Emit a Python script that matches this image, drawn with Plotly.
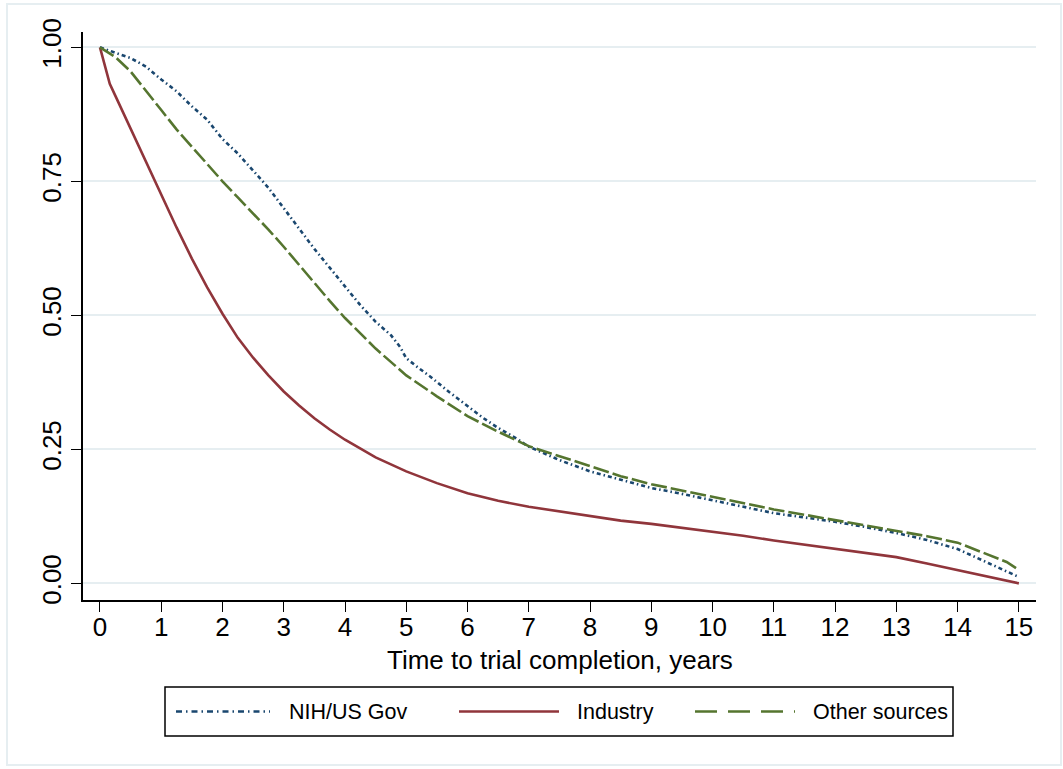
import plotly.graph_objects as go

# ---------------- data ----------------
series_names = ["NIH/US Gov", "Industry", "Other sources"]

nih_t = [0, 0.25, 0.5, 0.75, 1, 1.25, 1.5, 1.75, 2, 2.25, 2.5, 2.75, 3, 3.25, 3.5,
         3.75, 4, 4.25, 4.5, 4.75, 4.9, 5.0, 5.2, 5.4, 5.7, 6.0, 6.25, 6.5, 6.8, 7,
         7.5, 8, 8.5, 9, 9.5, 10, 10.5, 11, 11.5, 12, 12.5, 13, 13.5, 14, 14.5, 14.8, 15]
nih_s = [1.0, 0.99, 0.98, 0.964, 0.94, 0.918, 0.89, 0.865, 0.829, 0.802, 0.771, 0.738,
         0.70, 0.662, 0.624, 0.589, 0.554, 0.519, 0.488, 0.463, 0.441, 0.42, 0.402,
         0.385, 0.357, 0.33, 0.309, 0.29, 0.27, 0.255, 0.23, 0.209, 0.193, 0.178,
         0.167, 0.155, 0.143, 0.131, 0.123, 0.115, 0.105, 0.094, 0.081, 0.064, 0.038,
         0.022, 0.012]

ind_t = [0, 0.08, 0.16, 0.25, 0.5, 0.75, 1, 1.25, 1.5, 1.75, 2, 2.25, 2.5, 2.75, 3,
         3.25, 3.5, 3.75, 4, 4.5, 5, 5.5, 6, 6.5, 7, 7.5, 8, 8.5, 9, 9.5, 10, 10.5,
         11, 11.5, 12, 12.5, 13, 13.5, 14, 14.5, 15]
ind_s = [1.0, 0.965, 0.932, 0.91, 0.848, 0.786, 0.724, 0.664, 0.606, 0.552, 0.503,
         0.458, 0.421, 0.388, 0.358, 0.332, 0.308, 0.287, 0.268, 0.235, 0.209,
         0.187, 0.168, 0.154, 0.143, 0.134, 0.125, 0.117, 0.111, 0.104, 0.097,
         0.089, 0.08, 0.072, 0.064, 0.057, 0.049, 0.037, 0.025, 0.013, 0.0]

oth_t = [0, 0.25, 0.5, 0.75, 1, 1.25, 1.5, 1.75, 2, 2.25, 2.5, 2.75, 3, 3.25, 3.5,
         3.75, 4, 4.25, 4.5, 5, 5.5, 6, 6.5, 7, 7.5, 8, 8.5, 9, 9.5, 10, 10.5, 11, 11.5,
         12, 12.5, 13, 13.5, 14, 14.5, 14.8, 15]
oth_s = [1.0, 0.982, 0.955, 0.92, 0.883, 0.847, 0.814, 0.781, 0.75, 0.72, 0.69, 0.66,
         0.628, 0.594, 0.561, 0.527, 0.495, 0.466, 0.438, 0.388, 0.349, 0.312, 0.283,
         0.256, 0.237, 0.218, 0.2, 0.185, 0.173, 0.161, 0.149, 0.138, 0.128, 0.118,
         0.108, 0.099, 0.088, 0.076, 0.054, 0.04, 0.025]

x_ticks = list(range(0, 16))
y_ticks = [0, 0.25, 0.5, 0.75, 1.0]
y_tick_labels = ["0.00", "0.25", "0.50", "0.75", "1.00"]
x_title = "Time to trial completion, years"

# ---------------- styling ----------------
W, H = 1063, 769
ML, MR, MT, MB = 83, 27, 32, 169
FONT = "Liberation Sans, Arial, Helvetica, sans-serif"
GRID = "#e6eef1"
colors = ["#1a476f", "#90353b", "#55752f"]
plot_dash = ["4px,3px,1.5px,3px", "solid", "16px,4px"]
legend_dash = ["6px,4px,1.5px,4px", "solid", "22px,11px"]

pw = W - ML - MR
ph = H - MT - MB


def px_x(px):
    return (px - ML) / pw


def px_y(py):
    return (H - MB - py) / ph


fig = go.Figure()
for name, t, s, c, d in zip(series_names, [nih_t, ind_t, oth_t], [nih_s, ind_s, oth_s],
                            colors, plot_dash):
    fig.add_trace(go.Scatter(x=t, y=s, mode="lines", name=name, showlegend=False,
                             line=dict(color=c, width=2.6, dash=d)))

shapes = []
# outer light frame
shapes.append(dict(type="rect", xref="paper", yref="paper",
                   x0=px_x(7), x1=px_x(1061), y0=px_y(765), y1=px_y(4),
                   line=dict(color=GRID, width=2), layer="below"))
# legend box
shapes.append(dict(type="rect", xref="paper", yref="paper",
                   x0=px_x(165), x1=px_x(953), y0=px_y(736), y1=px_y(687),
                   line=dict(color="black", width=1.5), fillcolor="white"))
annotations = []
sample_x = [(176, 270), (459, 559), (695, 795)]
text_x = [287, 575, 811]
ly = 711.5
for name, c, d, (a, b), tx in zip(series_names, colors, legend_dash, sample_x, text_x):
    shapes.append(dict(type="line", xref="paper", yref="paper",
                       x0=px_x(a), x1=px_x(b), y0=px_y(ly), y1=px_y(ly),
                       line=dict(color=c, width=2.4, dash=d)))
    annotations.append(dict(xref="paper", yref="paper", x=px_x(tx), y=px_y(ly),
                            xanchor="left", yanchor="middle", text=name,
                            showarrow=False, font=dict(size=21.5, color="black", family=FONT)))

# x-axis title
annotations.append(dict(xref="paper", yref="paper", x=0.5, y=px_y(660),
                        xanchor="center", yanchor="middle", text=x_title,
                        showarrow=False, font=dict(size=26, color="black", family=FONT)))

fig.update_layout(
    width=W, height=H,
    margin=dict(l=ML, r=MR, t=MT, b=MB, pad=0),
    paper_bgcolor="white", plot_bgcolor="white",
    font=dict(family=FONT, color="black", size=26),
    showlegend=False,
    shapes=shapes,
    annotations=annotations,
    xaxis=dict(range=[-0.277, 15.28], tickvals=x_ticks, ticks="outside", ticklen=10,
               tickwidth=1.3, tickcolor="black", showline=True, linecolor="black",
               linewidth=1.5, showgrid=False, zeroline=False, ticklabelstandoff=-7,
               tickfont=dict(size=26, color="black")),
    yaxis=dict(range=[-0.031, 1.0286], tickvals=y_ticks, ticktext=y_tick_labels,
               ticks="outside", ticklen=10, tickwidth=1.3, tickcolor="black",
               showline=True, linecolor="black", linewidth=1.5,
               showgrid=True, gridcolor=GRID, gridwidth=2, zeroline=False,
               tickangle=-90, tickfont=dict(size=26, color="black")),
)

fig.write_html("out.html", config={"displayModeBar": False},
               post_script="document.body.style.margin='0';document.body.style.overflow='hidden';")
